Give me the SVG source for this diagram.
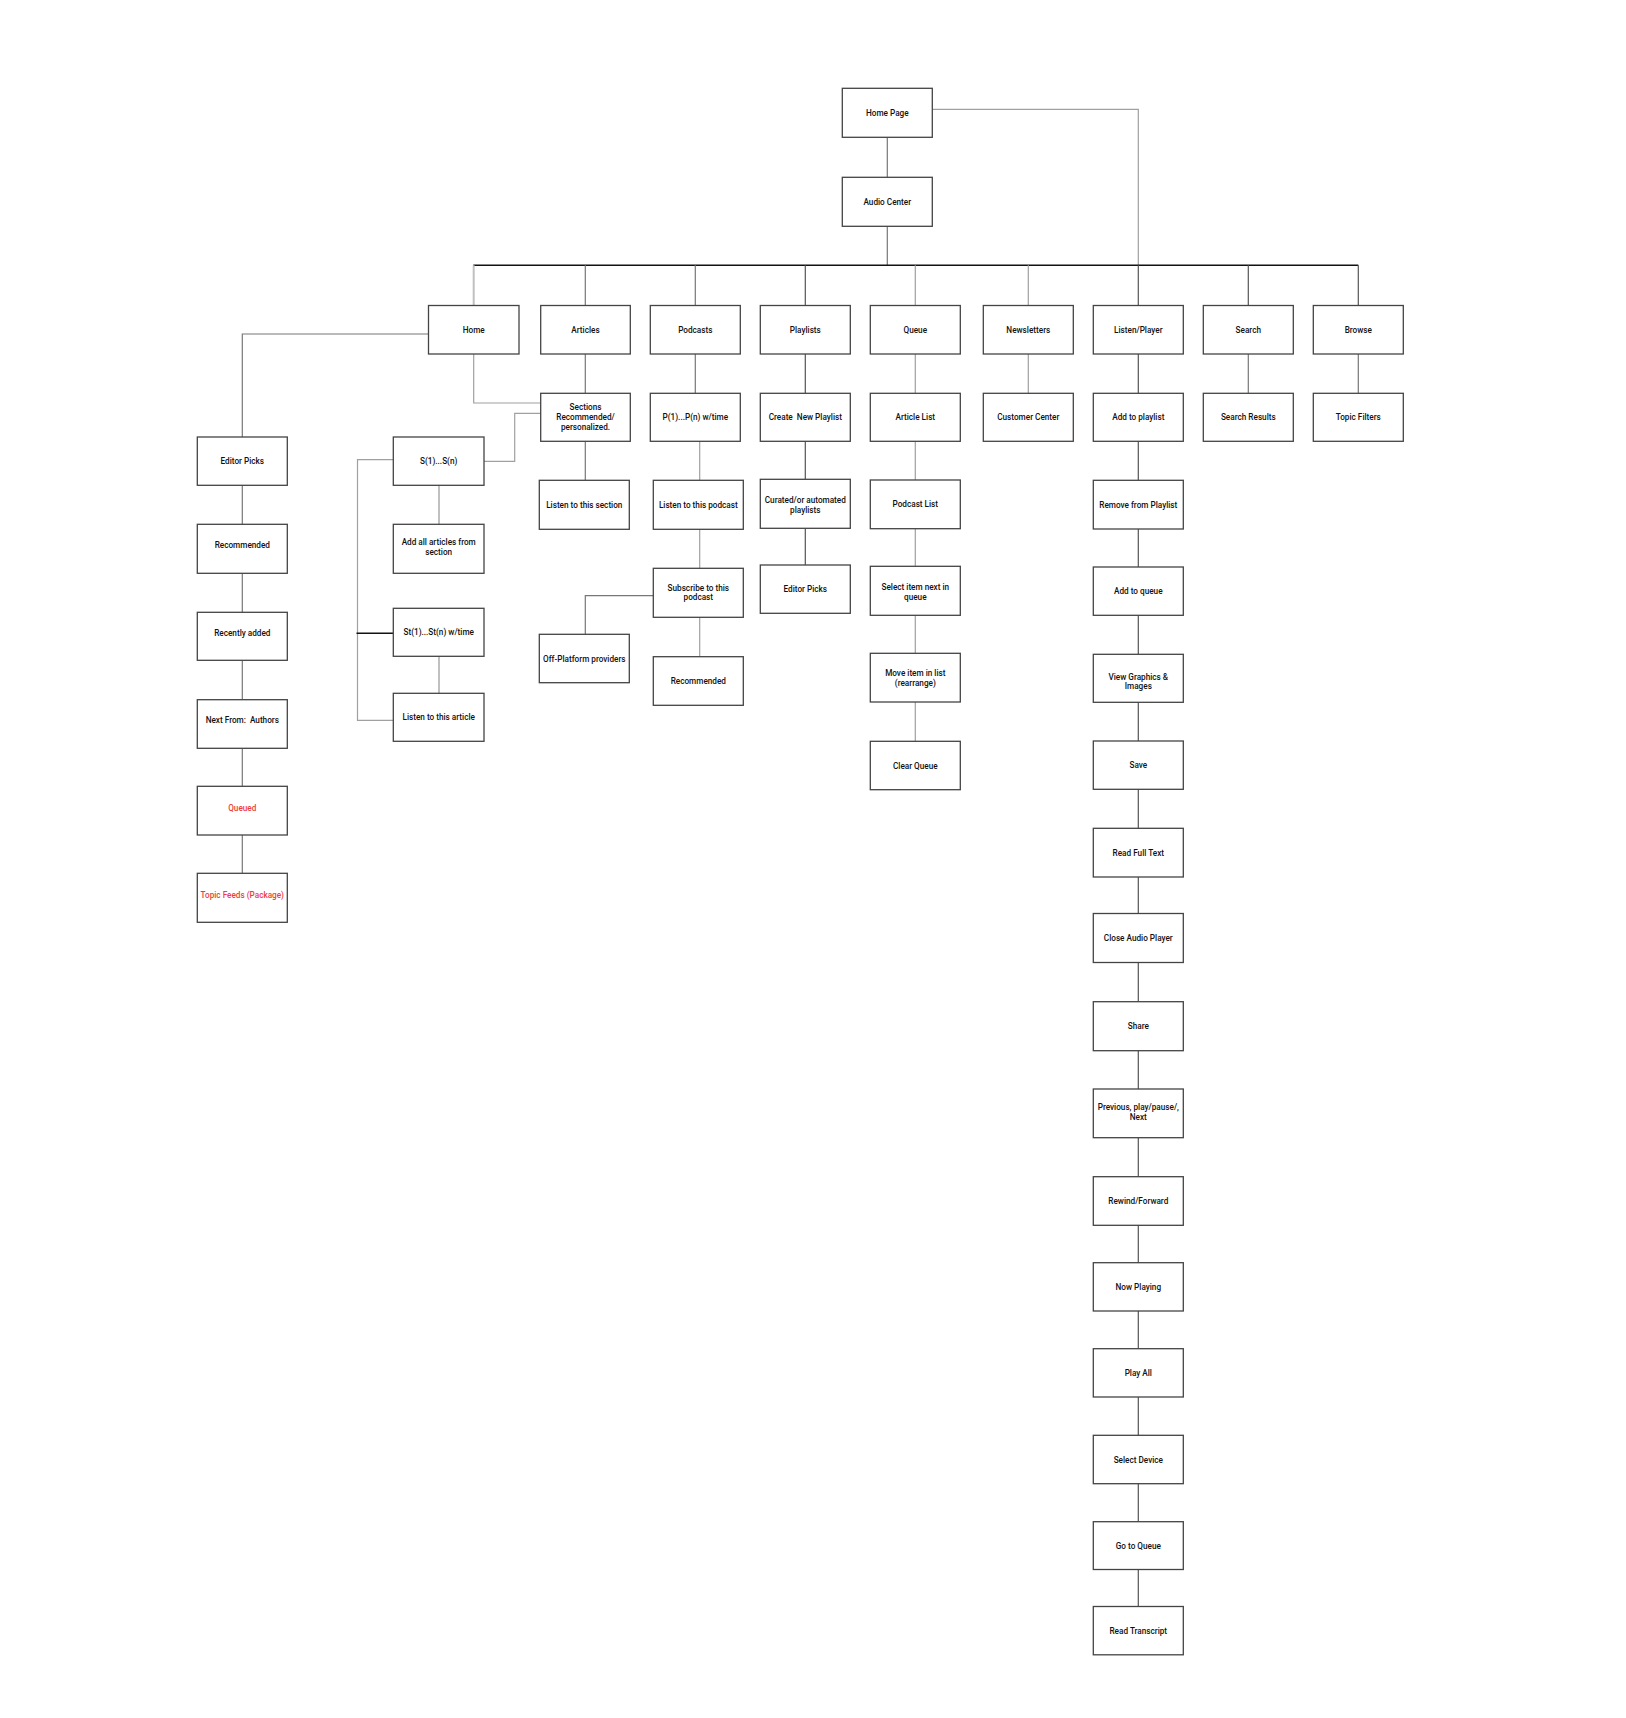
<svg xmlns="http://www.w3.org/2000/svg" width="1626" height="1718" viewBox="0 0 1626 1718">
<style>
.b{fill:#fff;stroke:#444;stroke-width:1.3}
.t{font-family:Roboto,"Liberation Sans",sans-serif;font-size:8.2px;font-weight:500;fill:#111;text-anchor:middle;white-space:pre}
.r{fill:#f03c3c}
.c{fill:none;stroke-width:1.2}
.d{stroke:#555}
.m{stroke:#777}
.l{stroke:#a0a0a0}
.g{stroke:#c0c0c0;stroke-width:2}
.k{stroke:#111;stroke-width:1.6}
</style>
<rect width="1626" height="1718" fill="#fff"/>
<g id="connectors">
<path class="c m" d="M887.3 137.3V177.3"/>
<path class="c m" d="M887.3 226.3V265.3"/>
<path class="c l" d="M932.3 109.3H1138.3V265.3"/>
<path class="c k" d="M473.3 265.3H1358.3"/>
<path class="c g" d="M473.7 265.3V305.5"/>
<path class="c m" d="M585.3 265.3V305.5"/>
<path class="c m" d="M695.3 265.3V305.5"/>
<path class="c d" d="M805.3 265.3V305.5"/>
<path class="c l" d="M915.3 265.3V305.5"/>
<path class="c l" d="M1028.3 265.3V305.5"/>
<path class="c d" d="M1138.3 265.3V305.5"/>
<path class="c d" d="M1248.3 265.3V305.5"/>
<path class="c d" d="M1358.3 265.3V305.5"/>
<path class="c m" d="M428.5 334H242.3V437"/>
<path class="c l" d="M473.7 354V403H540.7"/>
<path class="c l" d="M484 461.3H514.7V413.3H540.7"/>
<path class="c g" d="M439 485.3V524.3"/>
<path class="c g" d="M439 656.3V693.3"/>
<path class="c l" d="M393.3 459.7H357.5V720.3H393.3"/>
<path class="c k" d="M356.5 633.3H393.3"/>
<path class="c m" d="M242.3 485.3V524.3M242.3 573.3V612.3M242.3 660.3V699.7M242.3 748.3V786.3M242.3 835V873.3"/>
<path class="c m" d="M585.3 354V393.3M585.3 441.3V480.3"/>
<path class="c m" d="M695.3 354V393.3"/>
<path class="c l" d="M699.7 441.3V480.3M699.7 529.3V568.3M699.7 617.3V656.7"/>
<path class="c m" d="M653.3 595.7H585.3V634.3"/>
<path class="c d" d="M805.3 354V393.3M805.3 441.3V479.3M805.3 528.3V565"/>
<path class="c l" d="M915.3 354V393.3M915.3 441.3V480M915.3 528.7V566.3M915.3 615.3V653.3M915.3 702V741.3"/>
<path class="c l" d="M1028.3 354V393.3"/>
<path class="c d" d="M1138.3 354V393.3M1138.3 441.3V480.3M1138.3 529V567M1138.3 615.3V654.3M1138.3 702.3V741M1138.3 789.3V828.3M1138.3 877V913.5M1138.3 962.5V1001.7M1138.3 1050.7V1089M1138.3 1137.7V1176.7M1138.3 1225.3V1262.7M1138.3 1311V1348.7M1138.3 1397V1435.3M1138.3 1483.7V1521.7M1138.3 1569.5V1606.5"/>
<path class="c m" d="M1248.3 354V393.3M1358.3 354V393.3"/>
</g>
<g id="n-homepage"><rect class="b" x="842.3" y="88.3" width="90" height="49"/><text class="t" x="887.3" y="115.8">Home Page</text></g>
<g id="n-audiocenter"><rect class="b" x="842.3" y="177.3" width="90" height="49"/><text class="t" x="887.3" y="204.8">Audio Center</text></g>
<g id="n-home"><rect class="b" x="428.5" y="305.5" width="90.5" height="48.5"/><text class="t" x="473.7" y="332.7">Home</text></g>
<g id="n-articles"><rect class="b" x="540.7" y="305.5" width="89.6" height="48.5"/><text class="t" x="585.5" y="332.7">Articles</text></g>
<g id="n-podcasts"><rect class="b" x="650.3" y="305.5" width="90" height="48.5"/><text class="t" x="695.3" y="332.7">Podcasts</text></g>
<g id="n-playlists"><rect class="b" x="760.3" y="305.5" width="90" height="48.5"/><text class="t" x="805.3" y="332.7">Playlists</text></g>
<g id="n-queue"><rect class="b" x="870.3" y="305.5" width="90" height="48.5"/><text class="t" x="915.3" y="332.7">Queue</text></g>
<g id="n-newsletters"><rect class="b" x="983.3" y="305.5" width="90" height="48.5"/><text class="t" x="1028.3" y="332.7">Newsletters</text></g>
<g id="n-listenplayer"><rect class="b" x="1093.3" y="305.5" width="90" height="48.5"/><text class="t" x="1138.3" y="332.7">Listen/Player</text></g>
<g id="n-search"><rect class="b" x="1203.3" y="305.5" width="90" height="48.5"/><text class="t" x="1248.3" y="332.7">Search</text></g>
<g id="n-browse"><rect class="b" x="1313.3" y="305.5" width="90" height="48.5"/><text class="t" x="1358.3" y="332.7">Browse</text></g>
<g id="n-editorpicks"><rect class="b" x="197.3" y="437" width="90" height="48.3"/><text class="t" x="242.3" y="464.2">Editor Picks</text></g>
<g id="n-recommended1"><rect class="b" x="197.3" y="524.3" width="90" height="49"/><text class="t" x="242.3" y="548.3">Recommended</text></g>
<g id="n-recentlyadded"><rect class="b" x="197.3" y="612.3" width="90" height="48"/><text class="t" x="242.3" y="636.2">Recently added</text></g>
<g id="n-nextfrom"><rect class="b" x="197.3" y="699.7" width="90" height="48.6"/><text class="t" x="242.3" y="723.3">Next From:  Authors</text></g>
<g id="n-queued"><rect class="b" x="197.3" y="786.3" width="90" height="48.7"/><text class="t r" x="242.3" y="810.5">Queued</text></g>
<g id="n-topicfeeds"><rect class="b" x="197.3" y="873.3" width="90" height="49"/><text class="t r" x="242.3" y="897.8">Topic Feeds (Package)</text></g>
<g id="n-s1sn"><rect class="b" x="393.3" y="437" width="90.7" height="48.3"/><text class="t" x="438.7" y="464.2">S(1)...S(n)</text></g>
<g id="n-addall"><rect class="b" x="393.3" y="524.3" width="90.7" height="49"/><text class="t" x="438.7" y="545.2">Add all articles from</text><text class="t" x="438.7" y="555">section</text></g>
<g id="n-st1stn"><rect class="b" x="393.3" y="608.3" width="90.7" height="48"/><text class="t" x="438.7" y="635.3">St(1)...St(n) w/time</text></g>
<g id="n-listenarticle"><rect class="b" x="393.3" y="693.3" width="90.7" height="48"/><text class="t" x="438.7" y="720.3">Listen to this article</text></g>
<g id="n-sections"><rect class="b" x="540.7" y="393.3" width="89.6" height="48"/><text class="t" x="585.5" y="410.3">Sections</text><text class="t" x="585.5" y="420.3">Recommended/</text><text class="t" x="585.5" y="430.3">personalized.</text></g>
<g id="n-listensection"><rect class="b" x="539.3" y="480.3" width="90" height="49"/><text class="t" x="584.3" y="507.8">Listen to this section</text></g>
<g id="n-p1pn"><rect class="b" x="650.3" y="393.3" width="90" height="48"/><text class="t" x="695.3" y="420.3">P(1)...P(n) w/time</text></g>
<g id="n-listenpodcast"><rect class="b" x="653.3" y="480.3" width="90" height="49"/><text class="t" x="698.3" y="507.8">Listen to this podcast</text></g>
<g id="n-subscribe"><rect class="b" x="653.3" y="568.3" width="90" height="49"/><text class="t" x="698.3" y="590.5">Subscribe to this</text><text class="t" x="698.3" y="600.3">podcast</text></g>
<g id="n-recommended2"><rect class="b" x="653.3" y="656.7" width="90" height="48.6"/><text class="t" x="698.3" y="684">Recommended</text></g>
<g id="n-offplatform"><rect class="b" x="539.3" y="634.3" width="90" height="48.4"/><text class="t" x="584.3" y="661.5">Off-Platform providers</text></g>
<g id="n-createplaylist"><rect class="b" x="760.3" y="393.3" width="90" height="48"/><text class="t" x="805.3" y="420.3">Create  New Playlist</text></g>
<g id="n-curated"><rect class="b" x="760.3" y="479.3" width="90" height="49"/><text class="t" x="805.3" y="502.8">Curated/or automated</text><text class="t" x="805.3" y="512.6">playlists</text></g>
<g id="n-editorpicks2"><rect class="b" x="760.3" y="565" width="90" height="48.3"/><text class="t" x="805.3" y="592.2">Editor Picks</text></g>
<g id="n-articlelist"><rect class="b" x="870.3" y="393.3" width="90" height="48"/><text class="t" x="915.3" y="420.3">Article List</text></g>
<g id="n-podcastlist"><rect class="b" x="870.3" y="480" width="90" height="48.7"/><text class="t" x="915.3" y="507.3">Podcast List</text></g>
<g id="n-selectnext"><rect class="b" x="870.3" y="566.3" width="90" height="49"/><text class="t" x="915.3" y="590.2">Select item next in</text><text class="t" x="915.3" y="600">queue</text></g>
<g id="n-moveitem"><rect class="b" x="870.3" y="653.3" width="90" height="48.7"/><text class="t" x="915.3" y="675.9">Move item in list</text><text class="t" x="915.3" y="685.5">(rearrange)</text></g>
<g id="n-clearqueue"><rect class="b" x="870.3" y="741.3" width="90" height="48.4"/><text class="t" x="915.3" y="768.5">Clear Queue</text></g>
<g id="n-customercenter"><rect class="b" x="983.3" y="393.3" width="90" height="48"/><text class="t" x="1028.3" y="420.3">Customer Center</text></g>
<g id="n-searchresults"><rect class="b" x="1203.3" y="393.3" width="90" height="48"/><text class="t" x="1248.3" y="420.3">Search Results</text></g>
<g id="n-topicfilters"><rect class="b" x="1313.3" y="393.3" width="90" height="48"/><text class="t" x="1358.3" y="420.3">Topic Filters</text></g>
<g id="n-addtoplaylist"><rect class="b" x="1093.3" y="393.3" width="90" height="48"/><text class="t" x="1138.3" y="420.3">Add to playlist</text></g>
<g id="n-removeplaylist"><rect class="b" x="1093.3" y="480.3" width="90" height="48.7"/><text class="t" x="1138.3" y="507.6">Remove from Playlist</text></g>
<g id="n-addtoqueue"><rect class="b" x="1093.3" y="567" width="90" height="48.3"/><text class="t" x="1138.3" y="594.2">Add to queue</text></g>
<g id="n-viewgraphics"><rect class="b" x="1093.3" y="654.3" width="90" height="48"/><text class="t" x="1138.3" y="679.5">View Graphics &amp;</text><text class="t" x="1138.3" y="689.3">Images</text></g>
<g id="n-save"><rect class="b" x="1093.3" y="741" width="90" height="48.3"/><text class="t" x="1138.3" y="768.2">Save</text></g>
<g id="n-readfulltext"><rect class="b" x="1093.3" y="828.3" width="90" height="48.7"/><text class="t" x="1138.3" y="855.7">Read Full Text</text></g>
<g id="n-closeaudio"><rect class="b" x="1093.3" y="913.5" width="90" height="49"/><text class="t" x="1138.3" y="941">Close Audio Player</text></g>
<g id="n-share"><rect class="b" x="1093.3" y="1001.7" width="90" height="49"/><text class="t" x="1138.3" y="1029.2">Share</text></g>
<g id="n-previous"><rect class="b" x="1093.3" y="1089" width="90" height="48.7"/><text class="t" x="1138.3" y="1110">Previous, play/pause/,</text><text class="t" x="1138.3" y="1119.8">Next</text></g>
<g id="n-rewind"><rect class="b" x="1093.3" y="1176.7" width="90" height="48.6"/><text class="t" x="1138.3" y="1204">Rewind/Forward</text></g>
<g id="n-nowplaying"><rect class="b" x="1093.3" y="1262.7" width="90" height="48.3"/><text class="t" x="1138.3" y="1289.9">Now Playing</text></g>
<g id="n-playall"><rect class="b" x="1093.3" y="1348.7" width="90" height="48.3"/><text class="t" x="1138.3" y="1375.9">Play All</text></g>
<g id="n-selectdevice"><rect class="b" x="1093.3" y="1435.3" width="90" height="48.4"/><text class="t" x="1138.3" y="1462.5">Select Device</text></g>
<g id="n-gotoqueue"><rect class="b" x="1093.3" y="1521.7" width="90" height="47.8"/><text class="t" x="1138.3" y="1548.6">Go to Queue</text></g>
<g id="n-readtranscript"><rect class="b" x="1093.3" y="1606.5" width="90" height="48.3"/><text class="t" x="1138.3" y="1633.7">Read Transcript</text></g>
</svg>
